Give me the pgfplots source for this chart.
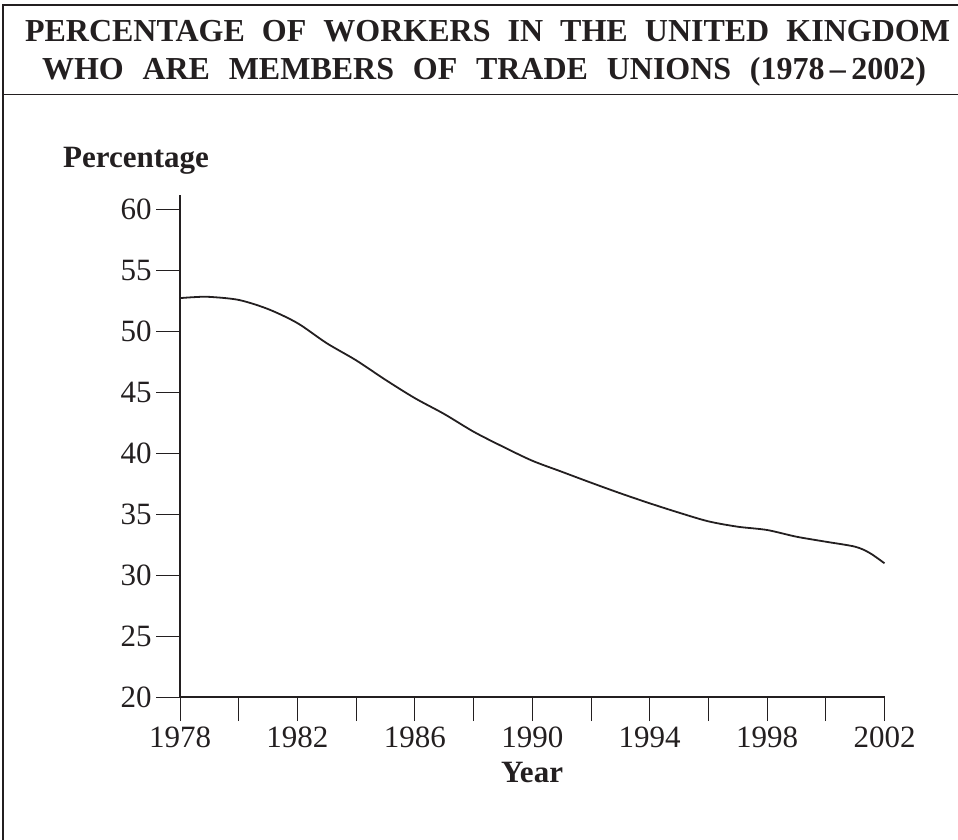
\documentclass[border=0pt]{standalone}
\usepackage{pgfplots}
\pgfplotsset{compat=1.18}
\usepackage{fontspec}
\setmainfont{Liberation Serif}
\definecolor{ink}{HTML}{231F20}
\begin{document}
\begin{tikzpicture}[x=1pt,y=1pt]
\useasboundingbox (0,0) rectangle (958,-839);
% frame
\draw[ink,line width=1.2pt] (3,-850) -- (3,-5) -- (970,-5);
\draw[ink,line width=1.2pt] (3,-94.5) -- (970,-94.5);
% title
\node[anchor=base,inner sep=0pt,text=ink] at (487.5,-41.7) {\fontsize{32}{38}\selectfont\bfseries\makebox[925pt][s]{PERCENTAGE OF WORKERS IN THE UNITED KINGDOM}};
\node[anchor=base,inner sep=0pt,text=ink] at (484,-79.3) {\fontsize{32}{38}\selectfont\bfseries\makebox[884pt][s]{WHO ARE MEMBERS OF TRADE UNIONS (1978\,–\,2002)}};
% axis labels
\node[anchor=base west,inner sep=0pt,text=ink] at (63,-167) {\fontsize{31}{36}\selectfont\bfseries Percentage};
\node[anchor=base,inner sep=0pt,text=ink] at (532,-782) {\fontsize{31}{36}\selectfont\bfseries Year};
\begin{axis}[
  at={(180pt,-697pt)}, anchor=south west,
  scale only axis, width=704.5pt, height=502pt,
  xmin=1978, xmax=2002, ymin=20, ymax=61.15,
  axis x line*=bottom, axis y line*=left,
  axis line style={ink,line width=1.3pt},
  xtick={1978,1982,...,2002},
  minor xtick={1980,1984,...,2000},
  ytick={20,25,...,60},
  tick align=outside,
  major tick length=24pt, minor tick length=24pt,
  tick style={ink,line width=0.9pt},
  /pgf/number format/assume math mode=true,
  /pgf/number format/1000 sep={},
  ticklabel style={font=\fontsize{31}{36}\selectfont, text=ink},
  xticklabel style={yshift=-2pt},
  yticklabel style={xshift=-1pt},
  clip=false,
]
\addplot[ink, line width=1.8pt, smooth, tension=0.5] coordinates {
(1978,52.7) (1978.5,52.78) (1979,52.8) (1980,52.55) (1981,51.8) (1982,50.65)
(1983,49.0) (1984,47.6) (1985,46.0) (1986,44.5) (1987,43.2) (1988,41.75)
(1989,40.52) (1990,39.37) (1991,38.47) (1992,37.57) (1993,36.7) (1994,35.88)
(1995,35.11) (1996,34.4) (1997,33.96) (1998,33.69) (1999,33.14) (2000,32.73)
(2001,32.32) (2001.5,31.8) (2002,30.96)
};
\end{axis}
\end{tikzpicture}
\end{document}
